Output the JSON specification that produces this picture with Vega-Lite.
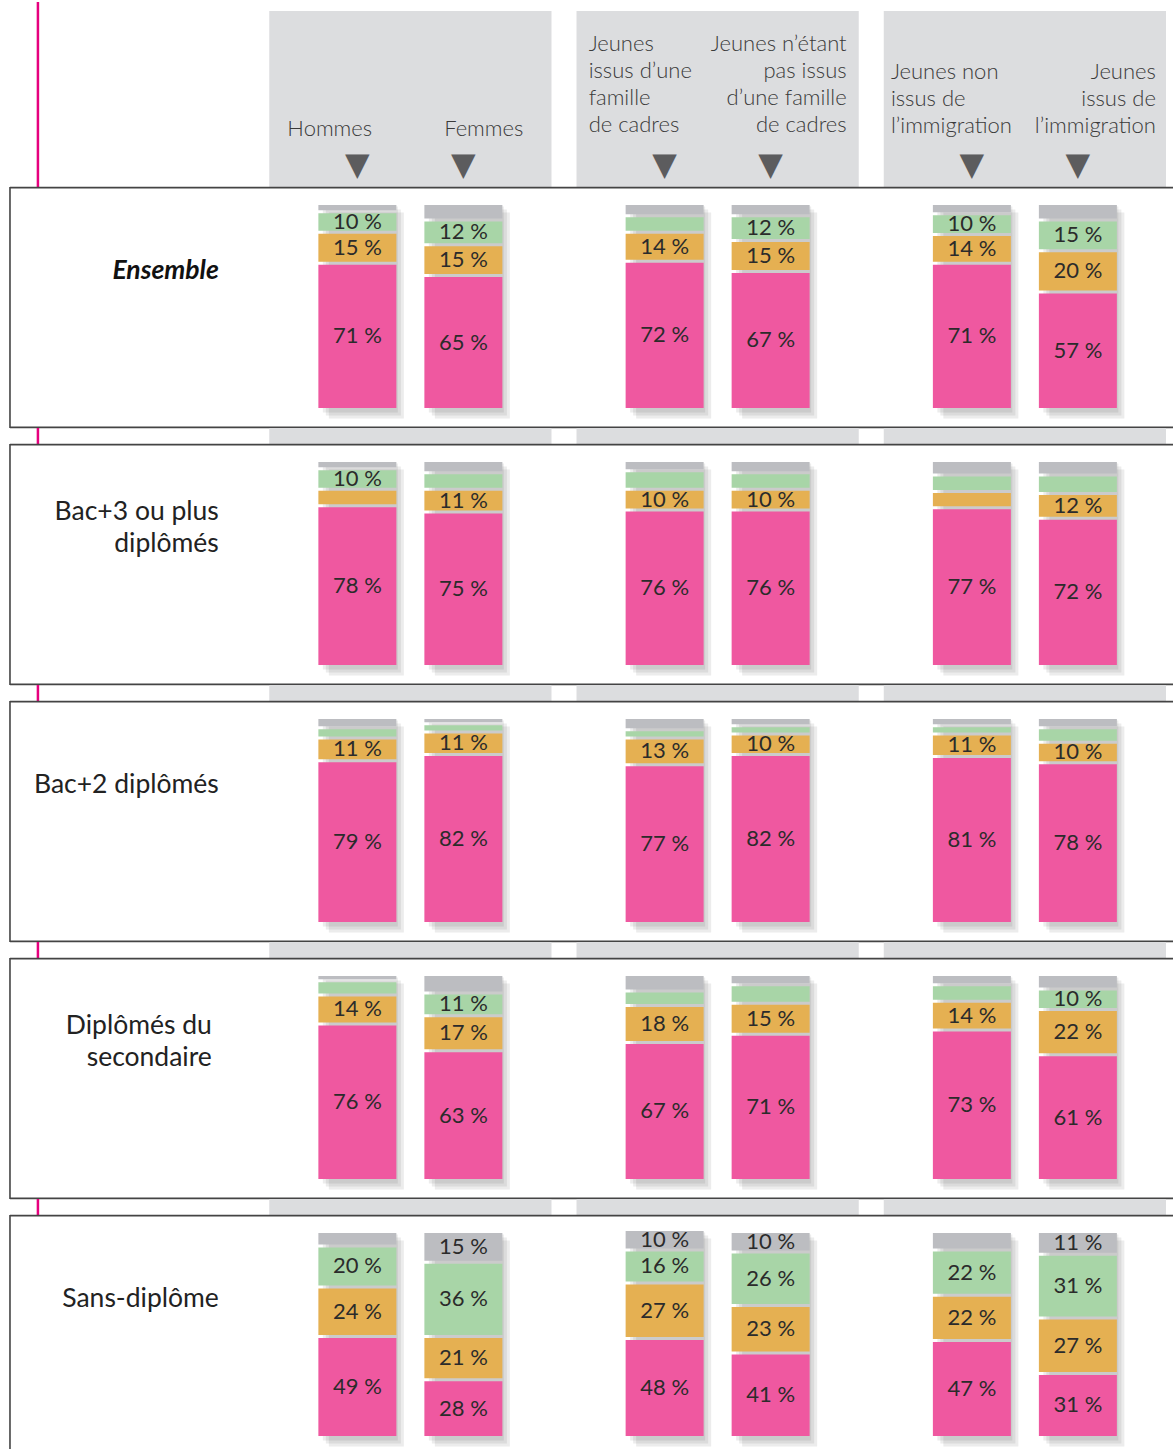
{
"$schema":"https://vega.github.io/schema/vega-lite/v6.json",
"background":"white",
"padding":{"left":9,"top":0,"right":0,"bottom":0},
"spacing":0,
"bounds":"flush",
"config":{"view":{"stroke":null},"concat":{"spacing":0}},
"datasets":{"bars":[
{"r":"E","g":"g1","m":"a","c":1,"v":71,"t":"71 %"},{"r":"E","g":"g1","m":"a","c":2,"v":15,"t":"15 %"},{"r":"E","g":"g1","m":"a","c":3,"v":10,"t":"10 %"},{"r":"E","g":"g1","m":"a","c":4,"v":4,"t":""},
{"r":"E","g":"g1","m":"b","c":1,"v":65,"t":"65 %"},{"r":"E","g":"g1","m":"b","c":2,"v":15,"t":"15 %"},{"r":"E","g":"g1","m":"b","c":3,"v":12,"t":"12 %"},{"r":"E","g":"g1","m":"b","c":4,"v":8,"t":""},
{"r":"E","g":"g2","m":"a","c":1,"v":72,"t":"72 %"},{"r":"E","g":"g2","m":"a","c":2,"v":14,"t":"14 %"},{"r":"E","g":"g2","m":"a","c":3,"v":8,"t":""},{"r":"E","g":"g2","m":"a","c":4,"v":6,"t":""},
{"r":"E","g":"g2","m":"b","c":1,"v":67,"t":"67 %"},{"r":"E","g":"g2","m":"b","c":2,"v":15,"t":"15 %"},{"r":"E","g":"g2","m":"b","c":3,"v":12,"t":"12 %"},{"r":"E","g":"g2","m":"b","c":4,"v":6,"t":""},
{"r":"E","g":"g3","m":"a","c":1,"v":71,"t":"71 %"},{"r":"E","g":"g3","m":"a","c":2,"v":14,"t":"14 %"},{"r":"E","g":"g3","m":"a","c":3,"v":10,"t":"10 %"},{"r":"E","g":"g3","m":"a","c":4,"v":5,"t":""},
{"r":"E","g":"g3","m":"b","c":1,"v":57,"t":"57 %"},{"r":"E","g":"g3","m":"b","c":2,"v":20,"t":"20 %"},{"r":"E","g":"g3","m":"b","c":3,"v":15,"t":"15 %"},{"r":"E","g":"g3","m":"b","c":4,"v":8,"t":""},
{"r":"B3","g":"g1","m":"a","c":1,"v":78,"t":"78 %"},{"r":"B3","g":"g1","m":"a","c":2,"v":8,"t":""},{"r":"B3","g":"g1","m":"a","c":3,"v":10,"t":"10 %"},{"r":"B3","g":"g1","m":"a","c":4,"v":4,"t":""},
{"r":"B3","g":"g1","m":"b","c":1,"v":75,"t":"75 %"},{"r":"B3","g":"g1","m":"b","c":2,"v":11,"t":"11 %"},{"r":"B3","g":"g1","m":"b","c":3,"v":8,"t":""},{"r":"B3","g":"g1","m":"b","c":4,"v":6,"t":""},
{"r":"B3","g":"g2","m":"a","c":1,"v":76,"t":"76 %"},{"r":"B3","g":"g2","m":"a","c":2,"v":10,"t":"10 %"},{"r":"B3","g":"g2","m":"a","c":3,"v":9,"t":""},{"r":"B3","g":"g2","m":"a","c":4,"v":5,"t":""},
{"r":"B3","g":"g2","m":"b","c":1,"v":76,"t":"76 %"},{"r":"B3","g":"g2","m":"b","c":2,"v":10,"t":"10 %"},{"r":"B3","g":"g2","m":"b","c":3,"v":8,"t":""},{"r":"B3","g":"g2","m":"b","c":4,"v":6,"t":""},
{"r":"B3","g":"g3","m":"a","c":1,"v":77,"t":"77 %"},{"r":"B3","g":"g3","m":"a","c":2,"v":8,"t":""},{"r":"B3","g":"g3","m":"a","c":3,"v":8,"t":""},{"r":"B3","g":"g3","m":"a","c":4,"v":7,"t":""},
{"r":"B3","g":"g3","m":"b","c":1,"v":72,"t":"72 %"},{"r":"B3","g":"g3","m":"b","c":2,"v":12,"t":"12 %"},{"r":"B3","g":"g3","m":"b","c":3,"v":9,"t":""},{"r":"B3","g":"g3","m":"b","c":4,"v":7,"t":""},
{"r":"B2","g":"g1","m":"a","c":1,"v":79,"t":"79 %"},{"r":"B2","g":"g1","m":"a","c":2,"v":11,"t":"11 %"},{"r":"B2","g":"g1","m":"a","c":3,"v":5,"t":""},{"r":"B2","g":"g1","m":"a","c":4,"v":5,"t":""},
{"r":"B2","g":"g1","m":"b","c":1,"v":82,"t":"82 %"},{"r":"B2","g":"g1","m":"b","c":2,"v":11,"t":"11 %"},{"r":"B2","g":"g1","m":"b","c":3,"v":4,"t":""},{"r":"B2","g":"g1","m":"b","c":4,"v":3,"t":""},
{"r":"B2","g":"g2","m":"a","c":1,"v":77,"t":"77 %"},{"r":"B2","g":"g2","m":"a","c":2,"v":13,"t":"13 %"},{"r":"B2","g":"g2","m":"a","c":3,"v":4,"t":""},{"r":"B2","g":"g2","m":"a","c":4,"v":6,"t":""},
{"r":"B2","g":"g2","m":"b","c":1,"v":82,"t":"82 %"},{"r":"B2","g":"g2","m":"b","c":2,"v":10,"t":"10 %"},{"r":"B2","g":"g2","m":"b","c":3,"v":4,"t":""},{"r":"B2","g":"g2","m":"b","c":4,"v":4,"t":""},
{"r":"B2","g":"g3","m":"a","c":1,"v":81,"t":"81 %"},{"r":"B2","g":"g3","m":"a","c":2,"v":11,"t":"11 %"},{"r":"B2","g":"g3","m":"a","c":3,"v":4,"t":""},{"r":"B2","g":"g3","m":"a","c":4,"v":4,"t":""},
{"r":"B2","g":"g3","m":"b","c":1,"v":78,"t":"78 %"},{"r":"B2","g":"g3","m":"b","c":2,"v":10,"t":"10 %"},{"r":"B2","g":"g3","m":"b","c":3,"v":7,"t":""},{"r":"B2","g":"g3","m":"b","c":4,"v":5,"t":""},
{"r":"S","g":"g1","m":"a","c":1,"v":76,"t":"76 %"},{"r":"S","g":"g1","m":"a","c":2,"v":14,"t":"14 %"},{"r":"S","g":"g1","m":"a","c":3,"v":7,"t":""},{"r":"S","g":"g1","m":"a","c":4,"v":3,"t":""},
{"r":"S","g":"g1","m":"b","c":1,"v":63,"t":"63 %"},{"r":"S","g":"g1","m":"b","c":2,"v":17,"t":"17 %"},{"r":"S","g":"g1","m":"b","c":3,"v":11,"t":"11 %"},{"r":"S","g":"g1","m":"b","c":4,"v":9,"t":""},
{"r":"S","g":"g2","m":"a","c":1,"v":67,"t":"67 %"},{"r":"S","g":"g2","m":"a","c":2,"v":18,"t":"18 %"},{"r":"S","g":"g2","m":"a","c":3,"v":7,"t":""},{"r":"S","g":"g2","m":"a","c":4,"v":8,"t":""},
{"r":"S","g":"g2","m":"b","c":1,"v":71,"t":"71 %"},{"r":"S","g":"g2","m":"b","c":2,"v":15,"t":"15 %"},{"r":"S","g":"g2","m":"b","c":3,"v":9,"t":""},{"r":"S","g":"g2","m":"b","c":4,"v":5,"t":""},
{"r":"S","g":"g3","m":"a","c":1,"v":73,"t":"73 %"},{"r":"S","g":"g3","m":"a","c":2,"v":14,"t":"14 %"},{"r":"S","g":"g3","m":"a","c":3,"v":8,"t":""},{"r":"S","g":"g3","m":"a","c":4,"v":5,"t":""},
{"r":"S","g":"g3","m":"b","c":1,"v":61,"t":"61 %"},{"r":"S","g":"g3","m":"b","c":2,"v":22,"t":"22 %"},{"r":"S","g":"g3","m":"b","c":3,"v":10,"t":"10 %"},{"r":"S","g":"g3","m":"b","c":4,"v":7,"t":""},
{"r":"N","g":"g1","m":"a","c":1,"v":49,"t":"49 %"},{"r":"N","g":"g1","m":"a","c":2,"v":24,"t":"24 %"},{"r":"N","g":"g1","m":"a","c":3,"v":20,"t":"20 %"},{"r":"N","g":"g1","m":"a","c":4,"v":7,"t":""},
{"r":"N","g":"g1","m":"b","c":1,"v":28,"t":"28 %"},{"r":"N","g":"g1","m":"b","c":2,"v":21,"t":"21 %"},{"r":"N","g":"g1","m":"b","c":3,"v":36,"t":"36 %"},{"r":"N","g":"g1","m":"b","c":4,"v":15,"t":"15 %"},
{"r":"N","g":"g2","m":"a","c":1,"v":48,"t":"48 %"},{"r":"N","g":"g2","m":"a","c":2,"v":27,"t":"27 %"},{"r":"N","g":"g2","m":"a","c":3,"v":16,"t":"16 %"},{"r":"N","g":"g2","m":"a","c":4,"v":10,"t":"10 %"},
{"r":"N","g":"g2","m":"b","c":1,"v":41,"t":"41 %"},{"r":"N","g":"g2","m":"b","c":2,"v":23,"t":"23 %"},{"r":"N","g":"g2","m":"b","c":3,"v":26,"t":"26 %"},{"r":"N","g":"g2","m":"b","c":4,"v":10,"t":"10 %"},
{"r":"N","g":"g3","m":"a","c":1,"v":47,"t":"47 %"},{"r":"N","g":"g3","m":"a","c":2,"v":22,"t":"22 %"},{"r":"N","g":"g3","m":"a","c":3,"v":22,"t":"22 %"},{"r":"N","g":"g3","m":"a","c":4,"v":9,"t":""},
{"r":"N","g":"g3","m":"b","c":1,"v":31,"t":"31 %"},{"r":"N","g":"g3","m":"b","c":2,"v":27,"t":"27 %"},{"r":"N","g":"g3","m":"b","c":3,"v":31,"t":"31 %"},{"r":"N","g":"g3","m":"b","c":4,"v":11,"t":"11 %"}
]},
"vconcat":[
{"width":1164,"height":9,"layer":[
 {"data":{"values":[{"g":"lab"}]},"mark":{"type":"rule","color":"#E6007E","strokeWidth":2.5},"encoding":{"x":{"field":"g","type":"nominal","bandPosition":0.269,"scale":{"domain":["lab","g1","g2","g3"],"range":[-48,1156],"paddingInner":0.0814,"paddingOuter":0},"axis":null}}}
]},
{"width":1164,"height":176,"layer":[
 {"data":{"values":[{"g":"g1"},{"g":"g2"},{"g":"g3"}]},"mark":{"type":"rect","color":"#DCDDDF"},"encoding":{"x":{"field":"g","type":"nominal","scale":{"domain":["lab","g1","g2","g3"],"range":[-48,1156],"paddingInner":0.0814,"paddingOuter":0},"axis":null}}},
 {"data":{"values":[{"g":"lab"}]},"mark":{"type":"rule","color":"#E6007E","strokeWidth":2.5},"encoding":{"x":{"field":"g","type":"nominal","bandPosition":0.269,"axis":null}}},
 {"data":{"values":[
   {"k":"H","g":"g1","m":"a","label":"Hommes"},
   {"k":"F","g":"g1","m":"b","label":"Femmes"},
   {"k":"C","g":"g2","m":"a","label":"Jeunes\nissus d’une\nfamille\nde cadres"},
   {"k":"NC","g":"g2","m":"b","label":"Jeunes n’étant\npas issus\nd’une famille\nde cadres"},
   {"k":"NI","g":"g3","m":"a","label":"Jeunes non\nissus de\nl’immigration"},
   {"k":"I","g":"g3","m":"b","label":"Jeunes\nissus de\nl’immigration"}]},
  "layer":[
   {"transform":[{"filter":"datum.k==='H'"}],"mark":{"type":"text","align":"left","baseline":"bottom","dx":-70,"dy":42,"font":"Lato","fontSize":22,"fontWeight":300,"color":"#3a3a3a","lineBreak":"\n","lineHeight":27},
    "encoding":{"x":{"field":"g","type":"nominal","axis":null},"xOffset":{"field":"m","type":"nominal","scale":{"domain":["a","b"],"paddingInner":0.2642,"paddingOuter":0.4634}},"text":{"field":"label"}}},
   {"transform":[{"filter":"datum.k==='F'"}],"mark":{"type":"text","align":"right","baseline":"bottom","dx":60,"dy":42,"font":"Lato","fontSize":22,"fontWeight":300,"color":"#3a3a3a","lineBreak":"\n","lineHeight":27},
    "encoding":{"x":{"field":"g","type":"nominal","axis":null},"xOffset":{"field":"m","type":"nominal"},"text":{"field":"label"}}},
   {"transform":[{"filter":"datum.k==='C'"}],"mark":{"type":"text","align":"left","baseline":"bottom","dx":-76,"dy":-43,"font":"Lato","fontSize":22,"fontWeight":300,"color":"#3a3a3a","lineBreak":"\n","lineHeight":27},
    "encoding":{"x":{"field":"g","type":"nominal","axis":null},"xOffset":{"field":"m","type":"nominal"},"text":{"field":"label"}}},
   {"transform":[{"filter":"datum.k==='NC'"}],"mark":{"type":"text","align":"right","baseline":"bottom","dx":76,"dy":-43,"font":"Lato","fontSize":22,"fontWeight":300,"color":"#3a3a3a","lineBreak":"\n","lineHeight":27},
    "encoding":{"x":{"field":"g","type":"nominal","axis":null},"xOffset":{"field":"m","type":"nominal"},"text":{"field":"label"}}},
   {"transform":[{"filter":"datum.k==='NI'"}],"mark":{"type":"text","align":"left","baseline":"bottom","dx":-81,"dy":-15,"font":"Lato","fontSize":22,"fontWeight":300,"color":"#3a3a3a","lineBreak":"\n","lineHeight":27},
    "encoding":{"x":{"field":"g","type":"nominal","axis":null},"xOffset":{"field":"m","type":"nominal"},"text":{"field":"label"}}},
   {"transform":[{"filter":"datum.k==='I'"}],"mark":{"type":"text","align":"right","baseline":"bottom","dx":78,"dy":-15,"font":"Lato","fontSize":22,"fontWeight":300,"color":"#3a3a3a","lineBreak":"\n","lineHeight":27},
    "encoding":{"x":{"field":"g","type":"nominal","axis":null},"xOffset":{"field":"m","type":"nominal"},"text":{"field":"label"}}},
   {"mark":{"type":"text","text":"▼","align":"center","baseline":"middle","dy":66,"font":"DejaVu Sans","fontSize":32,"color":"#5c5c5e"},
    "encoding":{"x":{"field":"g","type":"nominal","axis":null},"xOffset":{"field":"m","type":"nominal"}}}
  ]}
]},
{"width":1164,"height":241,"layer":[
 {"data":{"name":"bars"},"transform":[{"filter":"datum.r==='E'"},{"stack":"v","groupby":["g","m"],"sort":[{"field":"c","order":"ascending"}],"as":["y0","y1"]},{"calculate":"(datum.y0+datum.y1)/2","as":"ym"}],
  "layer":[
   {"transform":[{"aggregate":[{"op":"min","field":"y0","as":"bot"},{"op":"max","field":"y1","as":"top"}],"groupby":["g","m"]}],
    "layer":[
     {"transform":[{"filter":"datum.m==='a'"}],"mark":{"type":"bar","color":"#444444","opacity":0.1,"width":75,"xOffset":-44,"yOffset":9,"y2Offset":9},"encoding":{"x":{"field":"g","type":"nominal","scale":{"domain":["lab","g1","g2","g3"],"range":[-48,1156],"paddingInner":0.0814,"paddingOuter":0},"axis":null},"y":{"field":"bot","type":"quantitative","scale":{"domain":[-9,108],"nice":false,"zero":false},"axis":null},"y2":{"field":"top"}}},
     {"transform":[{"filter":"datum.m==='a'"}],"mark":{"type":"bar","color":"#444444","opacity":0.1,"width":75,"xOffset":-47,"yOffset":6,"y2Offset":6},"encoding":{"x":{"field":"g","type":"nominal","axis":null},"y":{"field":"bot","type":"quantitative","axis":null},"y2":{"field":"top"}}},
     {"transform":[{"filter":"datum.m==='a'"}],"mark":{"type":"bar","color":"#444444","opacity":0.1,"width":75,"xOffset":-50,"yOffset":3,"y2Offset":3},"encoding":{"x":{"field":"g","type":"nominal","axis":null},"y":{"field":"bot","type":"quantitative","axis":null},"y2":{"field":"top"}}},
     {"transform":[{"filter":"datum.m==='b'"}],"mark":{"type":"bar","color":"#444444","opacity":0.1,"width":75,"xOffset":62,"yOffset":9,"y2Offset":9},"encoding":{"x":{"field":"g","type":"nominal","axis":null},"y":{"field":"bot","type":"quantitative","axis":null},"y2":{"field":"top"}}},
     {"transform":[{"filter":"datum.m==='b'"}],"mark":{"type":"bar","color":"#444444","opacity":0.1,"width":75,"xOffset":59,"yOffset":6,"y2Offset":6},"encoding":{"x":{"field":"g","type":"nominal","axis":null},"y":{"field":"bot","type":"quantitative","axis":null},"y2":{"field":"top"}}},
     {"transform":[{"filter":"datum.m==='b'"}],"mark":{"type":"bar","color":"#444444","opacity":0.1,"width":75,"xOffset":56,"yOffset":3,"y2Offset":3},"encoding":{"x":{"field":"g","type":"nominal","axis":null},"y":{"field":"bot","type":"quantitative","axis":null},"y2":{"field":"top"}}}
    ]},
   {"mark":{"type":"bar","yOffset":-1.5,"y2Offset":1.5},"encoding":{"x":{"field":"g","type":"nominal","axis":null},"xOffset":{"field":"m","type":"nominal","scale":{"domain":["a","b"],"paddingInner":0.2925,"paddingOuter":0.4775}},"y":{"field":"y0","type":"quantitative","axis":null},"y2":{"field":"y1"},"color":{"field":"c","type":"nominal","scale":{"domain":[1,2,3,4],"range":["#EF58A0","#E5B052","#A8D5A7","#BCBDC1"]},"legend":null}}},
   {"transform":[{"filter":"datum.t !== ''"}],"mark":{"type":"text","font":"Lato","fontSize":22,"color":"#2b2b2b","baseline":"middle"},"encoding":{"x":{"field":"g","type":"nominal","axis":null},"xOffset":{"field":"m","type":"nominal"},"y":{"field":"ym","type":"quantitative","axis":null},"text":{"field":"t"}}}
  ]},
 {"data":{"values":[{"g":"lab","label":"Ensemble"}]},"mark":{"type":"text","align":"right","baseline":"middle","font":"Lato","fontSize":26.5,"fontStyle":"italic","fontWeight":"bold","color":"#111111","lineBreak":"\n","lineHeight":32},"encoding":{"x":{"field":"g","type":"nominal","bandPosition":0.91,"axis":null},"y":{"datum":67.2,"type":"quantitative"},"text":{"field":"label"}}},
 {"data":{"values":[{"g":"lab"}]},"mark":{"type":"rule","color":"#444444","strokeWidth":1.6},"encoding":{"x":{"field":"g","type":"nominal","bandPosition":0.17,"axis":null}}},
 {"data":{"values":[{"k":1}]},"mark":{"type":"rule","color":"#444444","strokeWidth":1.6},"encoding":{"y":{"datum":107.7,"type":"quantitative"}}},
 {"data":{"values":[{"k":1}]},"mark":{"type":"rule","color":"#444444","strokeWidth":1.6},"encoding":{"y":{"datum":-8.7,"type":"quantitative"}}}
]},
{"width":1164,"height":16,"layer":[
 {"data":{"values":[{"g":"g1"},{"g":"g2"},{"g":"g3"}]},"mark":{"type":"rect","color":"#DCDDDF"},"encoding":{"x":{"field":"g","type":"nominal","scale":{"domain":["lab","g1","g2","g3"],"range":[-48,1156],"paddingInner":0.0814,"paddingOuter":0},"axis":null}}},
 {"data":{"values":[{"g":"lab"}]},"mark":{"type":"rule","color":"#E6007E","strokeWidth":2.5},"encoding":{"x":{"field":"g","type":"nominal","bandPosition":0.269,"axis":null}}}
]},
{"width":1164,"height":241,"layer":[
 {"data":{"name":"bars"},"transform":[{"filter":"datum.r==='B3'"},{"stack":"v","groupby":["g","m"],"sort":[{"field":"c","order":"ascending"}],"as":["y0","y1"]},{"calculate":"(datum.y0+datum.y1)/2","as":"ym"}],
  "layer":[
   {"transform":[{"aggregate":[{"op":"min","field":"y0","as":"bot"},{"op":"max","field":"y1","as":"top"}],"groupby":["g","m"]}],
    "layer":[
     {"transform":[{"filter":"datum.m==='a'"}],"mark":{"type":"bar","color":"#444444","opacity":0.1,"width":75,"xOffset":-44,"yOffset":9,"y2Offset":9},"encoding":{"x":{"field":"g","type":"nominal","scale":{"domain":["lab","g1","g2","g3"],"range":[-48,1156],"paddingInner":0.0814,"paddingOuter":0},"axis":null},"y":{"field":"bot","type":"quantitative","scale":{"domain":[-9,108],"nice":false,"zero":false},"axis":null},"y2":{"field":"top"}}},
     {"transform":[{"filter":"datum.m==='a'"}],"mark":{"type":"bar","color":"#444444","opacity":0.1,"width":75,"xOffset":-47,"yOffset":6,"y2Offset":6},"encoding":{"x":{"field":"g","type":"nominal","axis":null},"y":{"field":"bot","type":"quantitative","axis":null},"y2":{"field":"top"}}},
     {"transform":[{"filter":"datum.m==='a'"}],"mark":{"type":"bar","color":"#444444","opacity":0.1,"width":75,"xOffset":-50,"yOffset":3,"y2Offset":3},"encoding":{"x":{"field":"g","type":"nominal","axis":null},"y":{"field":"bot","type":"quantitative","axis":null},"y2":{"field":"top"}}},
     {"transform":[{"filter":"datum.m==='b'"}],"mark":{"type":"bar","color":"#444444","opacity":0.1,"width":75,"xOffset":62,"yOffset":9,"y2Offset":9},"encoding":{"x":{"field":"g","type":"nominal","axis":null},"y":{"field":"bot","type":"quantitative","axis":null},"y2":{"field":"top"}}},
     {"transform":[{"filter":"datum.m==='b'"}],"mark":{"type":"bar","color":"#444444","opacity":0.1,"width":75,"xOffset":59,"yOffset":6,"y2Offset":6},"encoding":{"x":{"field":"g","type":"nominal","axis":null},"y":{"field":"bot","type":"quantitative","axis":null},"y2":{"field":"top"}}},
     {"transform":[{"filter":"datum.m==='b'"}],"mark":{"type":"bar","color":"#444444","opacity":0.1,"width":75,"xOffset":56,"yOffset":3,"y2Offset":3},"encoding":{"x":{"field":"g","type":"nominal","axis":null},"y":{"field":"bot","type":"quantitative","axis":null},"y2":{"field":"top"}}}
    ]},
   {"mark":{"type":"bar","yOffset":-1.5,"y2Offset":1.5},"encoding":{"x":{"field":"g","type":"nominal","axis":null},"xOffset":{"field":"m","type":"nominal","scale":{"domain":["a","b"],"paddingInner":0.2925,"paddingOuter":0.4775}},"y":{"field":"y0","type":"quantitative","axis":null},"y2":{"field":"y1"},"color":{"field":"c","type":"nominal","scale":{"domain":[1,2,3,4],"range":["#EF58A0","#E5B052","#A8D5A7","#BCBDC1"]},"legend":null}}},
   {"transform":[{"filter":"datum.t !== ''"}],"mark":{"type":"text","font":"Lato","fontSize":22,"color":"#2b2b2b","baseline":"middle"},"encoding":{"x":{"field":"g","type":"nominal","axis":null},"xOffset":{"field":"m","type":"nominal"},"y":{"field":"ym","type":"quantitative","axis":null},"text":{"field":"t"}}}
  ]},
 {"data":{"values":[{"g":"lab","label":"Bac+3 ou plus\ndiplômés"}]},"mark":{"type":"text","align":"right","baseline":"middle","dy":-16,"font":"Lato","fontSize":26.5,"color":"#222222","lineBreak":"\n","lineHeight":32},"encoding":{"x":{"field":"g","type":"nominal","bandPosition":0.91,"axis":null},"y":{"datum":67.2,"type":"quantitative"},"text":{"field":"label"}}},
 {"data":{"values":[{"g":"lab"}]},"mark":{"type":"rule","color":"#444444","strokeWidth":1.6},"encoding":{"x":{"field":"g","type":"nominal","bandPosition":0.17,"axis":null}}},
 {"data":{"values":[{"k":1}]},"mark":{"type":"rule","color":"#444444","strokeWidth":1.6},"encoding":{"y":{"datum":107.7,"type":"quantitative"}}},
 {"data":{"values":[{"k":1}]},"mark":{"type":"rule","color":"#444444","strokeWidth":1.6},"encoding":{"y":{"datum":-8.7,"type":"quantitative"}}}
]},
{"width":1164,"height":16,"layer":[
 {"data":{"values":[{"g":"g1"},{"g":"g2"},{"g":"g3"}]},"mark":{"type":"rect","color":"#DCDDDF"},"encoding":{"x":{"field":"g","type":"nominal","scale":{"domain":["lab","g1","g2","g3"],"range":[-48,1156],"paddingInner":0.0814,"paddingOuter":0},"axis":null}}},
 {"data":{"values":[{"g":"lab"}]},"mark":{"type":"rule","color":"#E6007E","strokeWidth":2.5},"encoding":{"x":{"field":"g","type":"nominal","bandPosition":0.269,"axis":null}}}
]},
{"width":1164,"height":241,"layer":[
 {"data":{"name":"bars"},"transform":[{"filter":"datum.r==='B2'"},{"stack":"v","groupby":["g","m"],"sort":[{"field":"c","order":"ascending"}],"as":["y0","y1"]},{"calculate":"(datum.y0+datum.y1)/2","as":"ym"}],
  "layer":[
   {"transform":[{"aggregate":[{"op":"min","field":"y0","as":"bot"},{"op":"max","field":"y1","as":"top"}],"groupby":["g","m"]}],
    "layer":[
     {"transform":[{"filter":"datum.m==='a'"}],"mark":{"type":"bar","color":"#444444","opacity":0.1,"width":75,"xOffset":-44,"yOffset":9,"y2Offset":9},"encoding":{"x":{"field":"g","type":"nominal","scale":{"domain":["lab","g1","g2","g3"],"range":[-48,1156],"paddingInner":0.0814,"paddingOuter":0},"axis":null},"y":{"field":"bot","type":"quantitative","scale":{"domain":[-9,108],"nice":false,"zero":false},"axis":null},"y2":{"field":"top"}}},
     {"transform":[{"filter":"datum.m==='a'"}],"mark":{"type":"bar","color":"#444444","opacity":0.1,"width":75,"xOffset":-47,"yOffset":6,"y2Offset":6},"encoding":{"x":{"field":"g","type":"nominal","axis":null},"y":{"field":"bot","type":"quantitative","axis":null},"y2":{"field":"top"}}},
     {"transform":[{"filter":"datum.m==='a'"}],"mark":{"type":"bar","color":"#444444","opacity":0.1,"width":75,"xOffset":-50,"yOffset":3,"y2Offset":3},"encoding":{"x":{"field":"g","type":"nominal","axis":null},"y":{"field":"bot","type":"quantitative","axis":null},"y2":{"field":"top"}}},
     {"transform":[{"filter":"datum.m==='b'"}],"mark":{"type":"bar","color":"#444444","opacity":0.1,"width":75,"xOffset":62,"yOffset":9,"y2Offset":9},"encoding":{"x":{"field":"g","type":"nominal","axis":null},"y":{"field":"bot","type":"quantitative","axis":null},"y2":{"field":"top"}}},
     {"transform":[{"filter":"datum.m==='b'"}],"mark":{"type":"bar","color":"#444444","opacity":0.1,"width":75,"xOffset":59,"yOffset":6,"y2Offset":6},"encoding":{"x":{"field":"g","type":"nominal","axis":null},"y":{"field":"bot","type":"quantitative","axis":null},"y2":{"field":"top"}}},
     {"transform":[{"filter":"datum.m==='b'"}],"mark":{"type":"bar","color":"#444444","opacity":0.1,"width":75,"xOffset":56,"yOffset":3,"y2Offset":3},"encoding":{"x":{"field":"g","type":"nominal","axis":null},"y":{"field":"bot","type":"quantitative","axis":null},"y2":{"field":"top"}}}
    ]},
   {"mark":{"type":"bar","yOffset":-1.5,"y2Offset":1.5},"encoding":{"x":{"field":"g","type":"nominal","axis":null},"xOffset":{"field":"m","type":"nominal","scale":{"domain":["a","b"],"paddingInner":0.2925,"paddingOuter":0.4775}},"y":{"field":"y0","type":"quantitative","axis":null},"y2":{"field":"y1"},"color":{"field":"c","type":"nominal","scale":{"domain":[1,2,3,4],"range":["#EF58A0","#E5B052","#A8D5A7","#BCBDC1"]},"legend":null}}},
   {"transform":[{"filter":"datum.t !== ''"}],"mark":{"type":"text","font":"Lato","fontSize":22,"color":"#2b2b2b","baseline":"middle"},"encoding":{"x":{"field":"g","type":"nominal","axis":null},"xOffset":{"field":"m","type":"nominal"},"y":{"field":"ym","type":"quantitative","axis":null},"text":{"field":"t"}}}
  ]},
 {"data":{"values":[{"g":"lab","label":"Bac+2 diplômés"}]},"mark":{"type":"text","align":"right","baseline":"middle","font":"Lato","fontSize":26.5,"color":"#222222","lineBreak":"\n","lineHeight":32},"encoding":{"x":{"field":"g","type":"nominal","bandPosition":0.91,"axis":null},"y":{"datum":67.2,"type":"quantitative"},"text":{"field":"label"}}},
 {"data":{"values":[{"g":"lab"}]},"mark":{"type":"rule","color":"#444444","strokeWidth":1.6},"encoding":{"x":{"field":"g","type":"nominal","bandPosition":0.17,"axis":null}}},
 {"data":{"values":[{"k":1}]},"mark":{"type":"rule","color":"#444444","strokeWidth":1.6},"encoding":{"y":{"datum":107.7,"type":"quantitative"}}},
 {"data":{"values":[{"k":1}]},"mark":{"type":"rule","color":"#444444","strokeWidth":1.6},"encoding":{"y":{"datum":-8.7,"type":"quantitative"}}}
]},
{"width":1164,"height":16,"layer":[
 {"data":{"values":[{"g":"g1"},{"g":"g2"},{"g":"g3"}]},"mark":{"type":"rect","color":"#DCDDDF"},"encoding":{"x":{"field":"g","type":"nominal","scale":{"domain":["lab","g1","g2","g3"],"range":[-48,1156],"paddingInner":0.0814,"paddingOuter":0},"axis":null}}},
 {"data":{"values":[{"g":"lab"}]},"mark":{"type":"rule","color":"#E6007E","strokeWidth":2.5},"encoding":{"x":{"field":"g","type":"nominal","bandPosition":0.269,"axis":null}}}
]},
{"width":1164,"height":241,"layer":[
 {"data":{"name":"bars"},"transform":[{"filter":"datum.r==='S'"},{"stack":"v","groupby":["g","m"],"sort":[{"field":"c","order":"ascending"}],"as":["y0","y1"]},{"calculate":"(datum.y0+datum.y1)/2","as":"ym"}],
  "layer":[
   {"transform":[{"aggregate":[{"op":"min","field":"y0","as":"bot"},{"op":"max","field":"y1","as":"top"}],"groupby":["g","m"]}],
    "layer":[
     {"transform":[{"filter":"datum.m==='a'"}],"mark":{"type":"bar","color":"#444444","opacity":0.1,"width":75,"xOffset":-44,"yOffset":9,"y2Offset":9},"encoding":{"x":{"field":"g","type":"nominal","scale":{"domain":["lab","g1","g2","g3"],"range":[-48,1156],"paddingInner":0.0814,"paddingOuter":0},"axis":null},"y":{"field":"bot","type":"quantitative","scale":{"domain":[-9,108],"nice":false,"zero":false},"axis":null},"y2":{"field":"top"}}},
     {"transform":[{"filter":"datum.m==='a'"}],"mark":{"type":"bar","color":"#444444","opacity":0.1,"width":75,"xOffset":-47,"yOffset":6,"y2Offset":6},"encoding":{"x":{"field":"g","type":"nominal","axis":null},"y":{"field":"bot","type":"quantitative","axis":null},"y2":{"field":"top"}}},
     {"transform":[{"filter":"datum.m==='a'"}],"mark":{"type":"bar","color":"#444444","opacity":0.1,"width":75,"xOffset":-50,"yOffset":3,"y2Offset":3},"encoding":{"x":{"field":"g","type":"nominal","axis":null},"y":{"field":"bot","type":"quantitative","axis":null},"y2":{"field":"top"}}},
     {"transform":[{"filter":"datum.m==='b'"}],"mark":{"type":"bar","color":"#444444","opacity":0.1,"width":75,"xOffset":62,"yOffset":9,"y2Offset":9},"encoding":{"x":{"field":"g","type":"nominal","axis":null},"y":{"field":"bot","type":"quantitative","axis":null},"y2":{"field":"top"}}},
     {"transform":[{"filter":"datum.m==='b'"}],"mark":{"type":"bar","color":"#444444","opacity":0.1,"width":75,"xOffset":59,"yOffset":6,"y2Offset":6},"encoding":{"x":{"field":"g","type":"nominal","axis":null},"y":{"field":"bot","type":"quantitative","axis":null},"y2":{"field":"top"}}},
     {"transform":[{"filter":"datum.m==='b'"}],"mark":{"type":"bar","color":"#444444","opacity":0.1,"width":75,"xOffset":56,"yOffset":3,"y2Offset":3},"encoding":{"x":{"field":"g","type":"nominal","axis":null},"y":{"field":"bot","type":"quantitative","axis":null},"y2":{"field":"top"}}}
    ]},
   {"mark":{"type":"bar","yOffset":-1.5,"y2Offset":1.5},"encoding":{"x":{"field":"g","type":"nominal","axis":null},"xOffset":{"field":"m","type":"nominal","scale":{"domain":["a","b"],"paddingInner":0.2925,"paddingOuter":0.4775}},"y":{"field":"y0","type":"quantitative","axis":null},"y2":{"field":"y1"},"color":{"field":"c","type":"nominal","scale":{"domain":[1,2,3,4],"range":["#EF58A0","#E5B052","#A8D5A7","#BCBDC1"]},"legend":null}}},
   {"transform":[{"filter":"datum.t !== ''"}],"mark":{"type":"text","font":"Lato","fontSize":22,"color":"#2b2b2b","baseline":"middle"},"encoding":{"x":{"field":"g","type":"nominal","axis":null},"xOffset":{"field":"m","type":"nominal"},"y":{"field":"ym","type":"quantitative","axis":null},"text":{"field":"t"}}}
  ]},
 {"data":{"values":[{"g":"lab","label":"Diplômés du\nsecondaire"}]},"mark":{"type":"text","align":"right","baseline":"middle","dx":-7,"dy":-16,"font":"Lato","fontSize":26.5,"color":"#222222","lineBreak":"\n","lineHeight":32},"encoding":{"x":{"field":"g","type":"nominal","bandPosition":0.91,"axis":null},"y":{"datum":67.2,"type":"quantitative"},"text":{"field":"label"}}},
 {"data":{"values":[{"g":"lab"}]},"mark":{"type":"rule","color":"#444444","strokeWidth":1.6},"encoding":{"x":{"field":"g","type":"nominal","bandPosition":0.17,"axis":null}}},
 {"data":{"values":[{"k":1}]},"mark":{"type":"rule","color":"#444444","strokeWidth":1.6},"encoding":{"y":{"datum":107.7,"type":"quantitative"}}},
 {"data":{"values":[{"k":1}]},"mark":{"type":"rule","color":"#444444","strokeWidth":1.6},"encoding":{"y":{"datum":-8.7,"type":"quantitative"}}}
]},
{"width":1164,"height":16,"layer":[
 {"data":{"values":[{"g":"g1"},{"g":"g2"},{"g":"g3"}]},"mark":{"type":"rect","color":"#DCDDDF"},"encoding":{"x":{"field":"g","type":"nominal","scale":{"domain":["lab","g1","g2","g3"],"range":[-48,1156],"paddingInner":0.0814,"paddingOuter":0},"axis":null}}},
 {"data":{"values":[{"g":"lab"}]},"mark":{"type":"rule","color":"#E6007E","strokeWidth":2.5},"encoding":{"x":{"field":"g","type":"nominal","bandPosition":0.269,"axis":null}}}
]},
{"width":1164,"height":236,"layer":[
 {"data":{"name":"bars"},"transform":[{"filter":"datum.r==='N'"},{"stack":"v","groupby":["g","m"],"sort":[{"field":"c","order":"ascending"}],"as":["y0","y1"]},{"calculate":"(datum.y0+datum.y1)/2","as":"ym"}],
  "layer":[
   {"transform":[{"aggregate":[{"op":"min","field":"y0","as":"bot"},{"op":"max","field":"y1","as":"top"}],"groupby":["g","m"]}],
    "layer":[
     {"transform":[{"filter":"datum.m==='a'"}],"mark":{"type":"bar","color":"#444444","opacity":0.1,"width":75,"xOffset":-44,"yOffset":9,"y2Offset":9},"encoding":{"x":{"field":"g","type":"nominal","scale":{"domain":["lab","g1","g2","g3"],"range":[-48,1156],"paddingInner":0.0814,"paddingOuter":0},"axis":null},"y":{"field":"bot","type":"quantitative","scale":{"domain":[-6.6,108],"nice":false,"zero":false},"axis":null},"y2":{"field":"top"}}},
     {"transform":[{"filter":"datum.m==='a'"}],"mark":{"type":"bar","color":"#444444","opacity":0.1,"width":75,"xOffset":-47,"yOffset":6,"y2Offset":6},"encoding":{"x":{"field":"g","type":"nominal","axis":null},"y":{"field":"bot","type":"quantitative","axis":null},"y2":{"field":"top"}}},
     {"transform":[{"filter":"datum.m==='a'"}],"mark":{"type":"bar","color":"#444444","opacity":0.1,"width":75,"xOffset":-50,"yOffset":3,"y2Offset":3},"encoding":{"x":{"field":"g","type":"nominal","axis":null},"y":{"field":"bot","type":"quantitative","axis":null},"y2":{"field":"top"}}},
     {"transform":[{"filter":"datum.m==='b'"}],"mark":{"type":"bar","color":"#444444","opacity":0.1,"width":75,"xOffset":62,"yOffset":9,"y2Offset":9},"encoding":{"x":{"field":"g","type":"nominal","axis":null},"y":{"field":"bot","type":"quantitative","axis":null},"y2":{"field":"top"}}},
     {"transform":[{"filter":"datum.m==='b'"}],"mark":{"type":"bar","color":"#444444","opacity":0.1,"width":75,"xOffset":59,"yOffset":6,"y2Offset":6},"encoding":{"x":{"field":"g","type":"nominal","axis":null},"y":{"field":"bot","type":"quantitative","axis":null},"y2":{"field":"top"}}},
     {"transform":[{"filter":"datum.m==='b'"}],"mark":{"type":"bar","color":"#444444","opacity":0.1,"width":75,"xOffset":56,"yOffset":3,"y2Offset":3},"encoding":{"x":{"field":"g","type":"nominal","axis":null},"y":{"field":"bot","type":"quantitative","axis":null},"y2":{"field":"top"}}}
    ]},
   {"mark":{"type":"bar","yOffset":-1.5,"y2Offset":1.5},"encoding":{"x":{"field":"g","type":"nominal","axis":null},"xOffset":{"field":"m","type":"nominal","scale":{"domain":["a","b"],"paddingInner":0.2925,"paddingOuter":0.4775}},"y":{"field":"y0","type":"quantitative","axis":null},"y2":{"field":"y1"},"color":{"field":"c","type":"nominal","scale":{"domain":[1,2,3,4],"range":["#EF58A0","#E5B052","#A8D5A7","#BCBDC1"]},"legend":null}}},
   {"transform":[{"filter":"datum.t !== ''"}],"mark":{"type":"text","font":"Lato","fontSize":22,"color":"#2b2b2b","baseline":"middle"},"encoding":{"x":{"field":"g","type":"nominal","axis":null},"xOffset":{"field":"m","type":"nominal"},"y":{"field":"ym","type":"quantitative","axis":null},"text":{"field":"t"}}}
  ]},
 {"data":{"values":[{"g":"lab","label":"Sans-diplôme"}]},"mark":{"type":"text","align":"right","baseline":"middle","font":"Lato","fontSize":26.5,"color":"#222222","lineBreak":"\n","lineHeight":32},"encoding":{"x":{"field":"g","type":"nominal","bandPosition":0.91,"axis":null},"y":{"datum":67.2,"type":"quantitative"},"text":{"field":"label"}}},
 {"data":{"values":[{"g":"lab"}]},"mark":{"type":"rule","color":"#444444","strokeWidth":1.6},"encoding":{"x":{"field":"g","type":"nominal","bandPosition":0.17,"axis":null}}},
 {"data":{"values":[{"k":1}]},"mark":{"type":"rule","color":"#444444","strokeWidth":1.6},"encoding":{"y":{"datum":107.7,"type":"quantitative"}}}
]}
]
}
